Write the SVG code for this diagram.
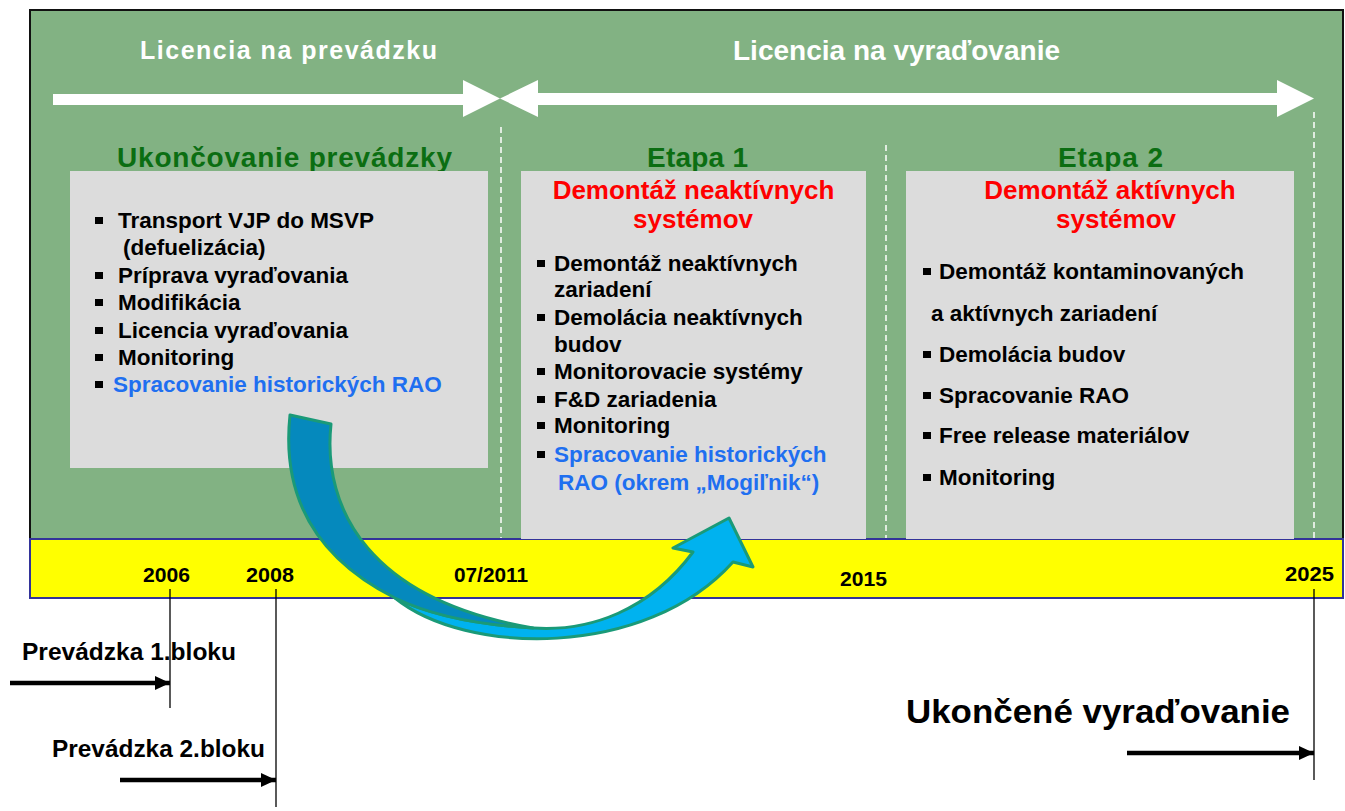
<svg xmlns="http://www.w3.org/2000/svg" width="1345" height="811" viewBox="0 0 1345 811">
<style>
text{font-family:"Liberation Sans",Arial,sans-serif;font-weight:bold}
.wt{fill:#ffffff;font-size:25px}
.gh{fill:#0b6e12;font-size:28px}
.rh{fill:#ff0000;font-size:26px}
.li{fill:#000000;font-size:22.5px}
.bl{fill:#1f6ff0;font-size:22.5px}
.yr{fill:#000000;font-size:21px}
.lb{fill:#000000;font-size:24px}
.box{fill:#dcdcdc}
.dash{stroke:#ffffff;stroke-width:1.5;stroke-dasharray:6 4;fill:none}
.vl{stroke:#000000;stroke-width:1.3}
.ar{stroke:#000000;stroke-width:4.5;marker-end:url(#ah)}
.curve{stroke:#1a9a78;stroke-width:3;stroke-linejoin:round}
</style>
<defs>
<marker id="ah" markerUnits="userSpaceOnUse" markerWidth="15" markerHeight="14" refX="15" refY="7" orient="auto">
<path d="M0,0 L15,7 L0,14 Z" fill="#000000"/>
</marker>
<symbol id="bul" overflow="visible"><rect x="0" y="0" width="8" height="7" fill="#000000"/></symbol>
</defs>
<rect x="0" y="0" width="1345" height="811" fill="#ffffff"/>
<g id="background">
<rect x="30" y="10" width="1313" height="529" fill="#82b283" stroke="#111111" stroke-width="2"/>
<line class="dash" x1="501" y1="127" x2="501" y2="539"/>
<line class="dash" x1="886" y1="145" x2="886" y2="539"/>
<line class="dash" x1="1314" y1="112" x2="1314" y2="539"/>
</g>
<g id="timeline">
<rect x="30" y="539" width="1313" height="59" fill="#ffff00" stroke="#333399" stroke-width="2"/>
</g>
<g id="license-operation">
<text class="wt" x="288.5" y="59" text-anchor="middle" textLength="297">Licencia na prevádzku</text>
</g>
<g id="license-decommissioning">
<text class="wt" x="896.5" y="60" text-anchor="middle" style="font-size:27px" textLength="327" lengthAdjust="spacingAndGlyphs">Licencia na vyraďovanie</text>
</g>
<g id="stage-shutdown">
<text class="gh" x="284.5" y="167" text-anchor="middle" textLength="335">Ukončovanie prevádzky</text>
<rect class="box" x="70" y="171" width="418" height="297"/>
<use href="#bul" x="95" y="217"/><text class="li" x="118" y="228">Transport VJP do MSVP</text>
<text class="li" x="123" y="255">(defuelizácia)</text>
<use href="#bul" x="95" y="272"/><text class="li" x="118" y="283">Príprava vyraďovania</text>
<use href="#bul" x="95" y="299"/><text class="li" x="118" y="310">Modifikácia</text>
<use href="#bul" x="95" y="327"/><text class="li" x="118" y="338">Licencia vyraďovania</text>
<use href="#bul" x="95" y="354"/><text class="li" x="118" y="365">Monitoring</text>
<use href="#bul" x="95" y="381"/><text class="bl" x="113" y="392">Spracovanie historických RAO</text>
</g>
<g id="stage-etapa1">
<text class="gh" x="697.5" y="167" text-anchor="middle" textLength="101">Etapa 1</text>
<rect class="box" x="521" y="171" width="345" height="368"/>
<text class="rh" x="693.5" y="199" text-anchor="middle">Demontáž neaktívnych</text>
<text class="rh" x="693" y="228" text-anchor="middle">systémov</text>
<use href="#bul" x="537" y="260"/><text class="li" x="554" y="271">Demontáž neaktívnych</text>
<text class="li" x="554" y="297">zariadení</text>
<use href="#bul" x="537" y="314"/><text class="li" x="554" y="325">Demolácia neaktívnych</text>
<text class="li" x="554" y="352">budov</text>
<use href="#bul" x="537" y="368"/><text class="li" x="554" y="379">Monitorovacie systémy</text>
<use href="#bul" x="537" y="396"/><text class="li" x="554" y="407">F&amp;D zariadenia</text>
<use href="#bul" x="537" y="422"/><text class="li" x="554" y="433">Monitoring</text>
<use href="#bul" x="537" y="451"/><text class="bl" x="554" y="462">Spracovanie historických</text>
<text class="bl" x="558" y="490">RAO (okrem „Mogiľnik“)</text>
</g>
<g id="stage-etapa2">
<text class="gh" x="1110.5" y="167" text-anchor="middle" textLength="105">Etapa 2</text>
<rect class="box" x="906" y="171" width="388" height="368"/>
<text class="rh" x="1110" y="199" text-anchor="middle">Demontáž aktívnych</text>
<text class="rh" x="1116" y="228" text-anchor="middle">systémov</text>
<use href="#bul" x="923" y="268"/><text class="li" x="939" y="279">Demontáž kontaminovaných</text>
<text class="li" x="931" y="321">a aktívnych zariadení</text>
<use href="#bul" x="923" y="351"/><text class="li" x="939" y="362">Demolácia budov</text>
<use href="#bul" x="923" y="392"/><text class="li" x="939" y="403">Spracovanie RAO</text>
<use href="#bul" x="923" y="432"/><text class="li" x="939" y="443">Free release materiálov</text>
<use href="#bul" x="923" y="474"/><text class="li" x="939" y="485">Monitoring</text>
</g>
<g id="years">
<text class="yr" x="166.5" y="582" text-anchor="middle" textLength="47" lengthAdjust="spacingAndGlyphs">2006</text>
<text class="yr" x="270" y="582" text-anchor="middle" textLength="48" lengthAdjust="spacingAndGlyphs">2008</text>
<text class="yr" x="491" y="582" text-anchor="middle" textLength="74" lengthAdjust="spacingAndGlyphs">07/2011</text>
<text class="yr" x="863.5" y="586" text-anchor="middle" textLength="47" lengthAdjust="spacingAndGlyphs">2015</text>
<text class="yr" x="1309.5" y="581" text-anchor="middle" textLength="49" lengthAdjust="spacingAndGlyphs">2025</text>
</g>
<g id="label-block1">
<text class="lb" x="22" y="660" textLength="214" lengthAdjust="spacingAndGlyphs">Prevádzka 1.bloku</text>
</g>
<g id="label-block2">
<text class="lb" x="52" y="757" textLength="213" lengthAdjust="spacingAndGlyphs">Prevádzka 2.bloku</text>
</g>
<g id="label-end">
<text x="906" y="723" style="font-size:34px" fill="#000000" textLength="384" lengthAdjust="spacingAndGlyphs">Ukončené vyraďovanie</text>
</g>
<g id="connectors">
<polygon fill="#ffffff" points="53,94 463,94 463,80 500,98.5 463,117 463,105 53,105"/>
<polygon fill="#ffffff" points="500,98.5 538,80 538,93 1277,93 1277,80 1314,98.5 1277,117 1277,105 538,105 538,117"/>
<line class="vl" x1="170" y1="589" x2="170" y2="708"/>
<line class="vl" x1="276" y1="589" x2="276" y2="807"/>
<line class="vl" x1="1314" y1="589" x2="1314" y2="780"/>
<line class="ar" x1="10" y1="683" x2="170" y2="683"/>
<line class="ar" x1="120" y1="780" x2="276" y2="780"/>
<line class="ar" x1="1127" y1="753" x2="1314" y2="753"/>
<path class="curve" fill="#00b2ef" d="M395,598 C465,655 645,660 733,562 L753,567 L729,518 L673,548 L693,552 C650,610 590,632 533,628 C480,625 430,615 395,598 Z"/>
<path class="curve" fill="#0589bd" d="M290,415 L331,424 C322,510 370,600 533,628 C480,625 430,615 395,598 C310,555 282,490 290,415 Z"/>
</g>
</svg>
